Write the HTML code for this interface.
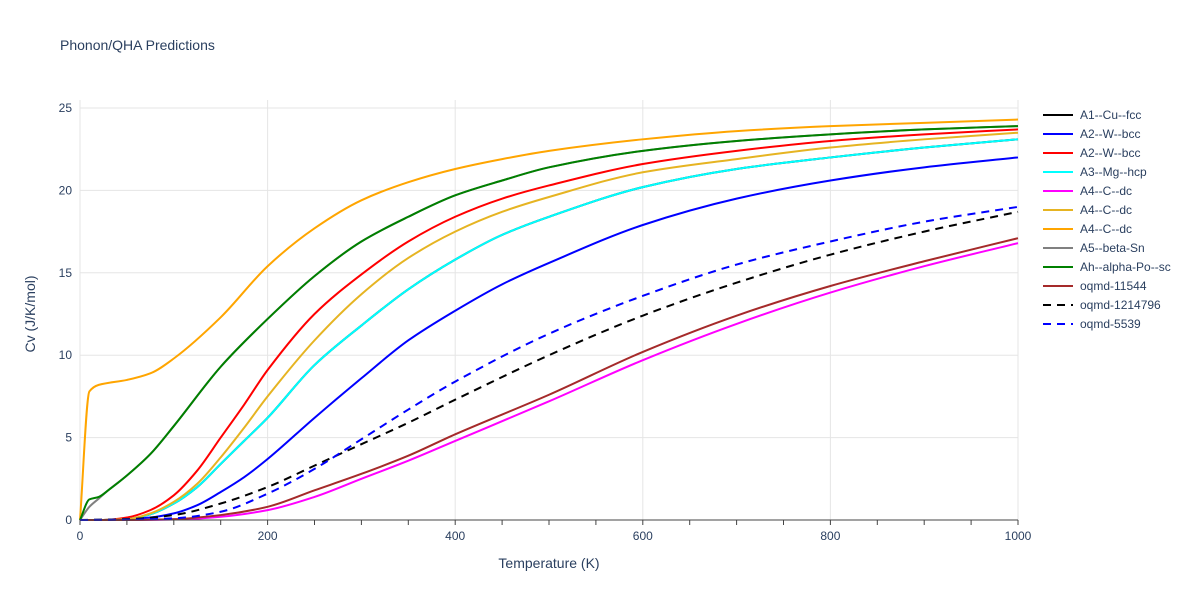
<!DOCTYPE html>
<html><head><meta charset="utf-8"><style>
body{margin:0;background:#fff;font-family:"Liberation Sans",sans-serif;}
svg text{font-family:"Liberation Sans",sans-serif;fill:#2a3f5f;}
</style></head><body>
<svg id="c" width="1200" height="600" xmlns="http://www.w3.org/2000/svg">
<text x="60" y="50" font-size="14">Phonon/QHA Predictions</text>
<g id="grid"></g><g id="series"></g><g id="axes"></g><g id="legend"></g>
<text x="549" y="568" font-size="14" text-anchor="middle">Temperature (K)</text>
<text transform="translate(35,314) rotate(-90)" font-size="14" text-anchor="middle">Cv (J/K/mol)</text>
</svg>
<script>
const xTicks=[0,200,400,600,800,1000];
const yTicks=[0,5,10,15,20,25];
const names=["A1--Cu--fcc","A2--W--bcc","A2--W--bcc","A3--Mg--hcp","A4--C--dc","A4--C--dc","A4--C--dc","A5--beta-Sn","Ah--alpha-Po--sc","oqmd-11544","oqmd-1214796","oqmd-5539"];
const colors=["#000000","#0000ff","#ff0000","#00ffff","#ff00ff","#e6b422","#ffa500","#808080","#008000","#a52a2a","#000000","#0000ff"];
const dashed=[false,false,false,false,false,false,false,false,false,false,true,true];
const tStd=[0,25,50,75,100,125,150,175,200,250,300,350,400,450,500,600,700,800,900,1000];
const tLow=[0,10,20,30,50,75,100,150,200,250,300,350,400,450,500,600,700,800,900,1000];
const tOr=[0,10,20,50,75,100,150,200,250,300,350,400,450,500,600,700,800,900,1000];
const tD=[0,50,100,150,200,250,300,350,400,500,600,700,800,900,1000];
const tC1=[0,25,50,100,150,200,250,300,350,400,500,600,700,800,900,1000];
const vCu=[0,0,0.05,0.35,1.0,2.0,3.4,4.8,6.2,9.4,11.8,14.0,15.8,17.3,18.4,20.2,21.3,22.0,22.6,23.1];
const vW1=[0,0,0.05,0.15,0.4,0.9,1.7,2.6,3.7,6.2,8.6,10.9,12.7,14.3,15.6,17.9,19.5,20.6,21.4,22.0];
const vW2=[0,0,0.15,0.6,1.5,3.0,5.0,7.0,9.1,12.5,14.9,16.9,18.4,19.5,20.3,21.6,22.4,23.0,23.4,23.7];
const vMg=[0,0,0.05,0.35,1.0,2.0,3.4,4.8,6.2,9.4,11.8,14.0,15.8,17.3,18.4,20.2,21.3,22.0,22.6,23.1];
const vC1=[0,0,0,0.03,0.2,0.6,1.4,2.5,3.6,4.8,7.2,9.7,11.9,13.8,15.4,16.8];
const vC2=[0,0,0.05,0.4,1.1,2.2,3.8,5.6,7.5,10.9,13.7,15.9,17.5,18.7,19.6,21.1,21.9,22.6,23.1,23.5];
const vC3=[0,7.8,8.2,8.5,8.9,9.8,12.3,15.4,17.7,19.4,20.5,21.3,21.9,22.4,23.1,23.6,23.9,24.1,24.3];
const vSn=[0,0.8,1.3,1.8,2.7,4.0,5.7,9.3,12.2,14.8,16.9,18.4,19.7,20.6,21.4,22.4,23.0,23.4,23.7,23.9];
const vPo=[0,1.25,1.4,1.8,2.7,4.0,5.7,9.3,12.2,14.8,16.9,18.4,19.7,20.6,21.4,22.4,23.0,23.4,23.7,23.9];
const vO1=[0,0,0.05,0.3,0.8,1.8,2.8,3.9,5.2,7.6,10.2,12.4,14.2,15.7,17.1];
const vO2=[0,0.05,0.3,1.0,2.0,3.3,4.6,5.9,7.3,10.0,12.4,14.4,16.1,17.5,18.7];
const vO3=[0,0.02,0.1,0.5,1.6,3.1,4.9,6.7,8.4,11.3,13.6,15.5,16.9,18.1,19.0];
const seriesT=[tStd,tStd,tStd,tStd,tC1,tStd,tOr,tLow,tLow,tD,tD,tD];
const seriesV=[vCu,vW1,vW2,vMg,vC1,vC2,vC3,vSn,vPo,vO1,vO2,vO3];
const X0=80,X1=1018,Y0=520,Y1=108;
const sx=t=>X0+(t/1000)*(X1-X0);
const sy=v=>Y0-(v/25)*(Y0-Y1);
const NS="http://www.w3.org/2000/svg";
function mk(tag,attrs,parent){const e=document.createElementNS(NS,tag);for(const k in attrs)e.setAttribute(k,attrs[k]);parent.appendChild(e);return e;}
function monoPath(xs,ys){
 const n=xs.length,d=[],m=[];
 for(let i=0;i<n-1;i++)d.push((ys[i+1]-ys[i])/(xs[i+1]-xs[i]));
 m[0]=d[0];m[n-1]=d[n-2];
 for(let i=1;i<n-1;i++){m[i]=(d[i-1]*d[i]<=0)?0:2/(1/d[i-1]+1/d[i]);}
 let s='M'+xs[0]+','+ys[0];
 for(let i=0;i<n-1;i++){const h=xs[i+1]-xs[i];
  s+=' C'+(xs[i]+h/3)+','+(ys[i]+m[i]*h/3)+' '+(xs[i+1]-h/3)+','+(ys[i+1]-m[i+1]*h/3)+' '+xs[i+1]+','+ys[i+1];}
 return s;
}
const grid=document.getElementById('grid'),axes=document.getElementById('axes'),ser=document.getElementById('series'),leg=document.getElementById('legend');
xTicks.forEach(t=>{
 const l=mk('line',{x1:sx(t),x2:sx(t),y1:Y1-8,y2:Y0,stroke:'#e5e5e5','stroke-width':1},grid);
 
 
 const tx=mk('text',{x:sx(t),y:Y0+20,'font-size':12,'text-anchor':'middle'},axes);tx.textContent=t;
 
 
});
yTicks.forEach(v=>{
 const l=mk('line',{x1:X0,x2:X1,y1:sy(v),y2:sy(v),stroke:'#e5e5e5','stroke-width':1},grid);
 
 
 const tx=mk('text',{x:X0-8,y:sy(v)+4,'font-size':12,'text-anchor':'end'},axes);tx.textContent=v;
 
 
});
const ax=mk('line',{x1:X0,x2:X1,y1:Y0,y2:Y0,stroke:'#444','stroke-width':1},axes);


for(let t=0;t<=1000;t+=50){const tk=mk('line',{x1:sx(t),x2:sx(t),y1:Y0,y2:Y0+5,stroke:'#444'},axes);
 
 }
seriesV.forEach((V,i)=>{
 const T=seriesT[i];
 const p=mk('path',{d:monoPath(T.map(sx),V.map(sy)),fill:'none',stroke:colors[i],'stroke-width':2,'stroke-linejoin':'round'},ser);
 if(dashed[i])p.setAttribute('stroke-dasharray','8,6');
 
 
 const y=115+i*19;
 const g=mk('g',{},leg);
 
 
 const ll=mk('line',{x1:1043,x2:1073,y1:y,y2:y,stroke:colors[i],'stroke-width':2},g);
 if(dashed[i])ll.setAttribute('stroke-dasharray','8,6');
 const tx=mk('text',{x:1080,y:y+4,'font-size':12},g);tx.textContent=names[i];
});
</script>
</body></html>
